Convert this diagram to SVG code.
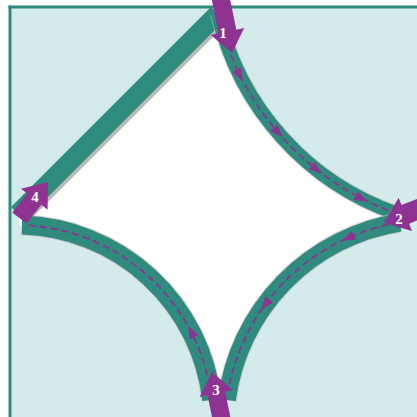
<svg xmlns="http://www.w3.org/2000/svg" width="417" height="417" viewBox="0 0 417 417">
<style>
.band{fill:none;stroke:#2e8b7d;stroke-linecap:butt}
.shadow{fill:none;stroke:#c4b6c2;stroke-linecap:butt;opacity:0.6}
.dash{fill:none;stroke:#8f3392;stroke-width:1.8;stroke-dasharray:7 4}
.big{fill:#8f3392}
.lbl{font-family:"Liberation Serif","DejaVu Serif",serif;font-weight:bold;font-size:15px;fill:#ffffff;text-anchor:middle}
</style>
<defs>
<polygon id="ah" points="6,0 -7,-4.8 -7,4.8" fill="#8f3392"/>
</defs>
<rect x="0" y="0" width="417" height="417" fill="#ffffff"/>
<rect x="10" y="7" width="407" height="410" fill="#d3ebeb"/>
<g id="frame" stroke="#2e8b7d" stroke-width="3" fill="none">
<line x1="8.5" y1="7" x2="417" y2="7"/>
<line x1="10" y1="5.5" x2="10" y2="417"/>
</g>
<path id="interior" d="M218,14 A277 277 0 0 0 398,214 L400,222.5 A207 207 0 0 0 226.8,400 L211.8,400 A197 197 0 0 0 20,225 L17,214 Z" fill="#ffffff"/>
<g id="connectors">
<polygon points="213.5,9.5 226.9,22.9 26.9,222.9 13.5,209.5" fill="#b8b8b8"/>
<polygon points="211,7 224.4,20.4 24.4,220.4 11,207" fill="#2e8b7d"/>
<path class="shadow" stroke-width="16" d="M218,14 A277 277 0 0 0 398,214"/>
<path class="band" stroke-width="14" d="M218,14 A277 277 0 0 0 398,214"/>
<path class="shadow" stroke-width="20" d="M400,222.5 A207 207 0 0 0 226.8,400"/>
<path class="band" stroke-width="18" d="M400,222.5 A207 207 0 0 0 226.8,400"/>
<path class="shadow" stroke-width="21" d="M211.8,400 A197 197 0 0 0 22,225.1"/>
<path class="band" stroke-width="19" d="M211.8,400 A197 197 0 0 0 22,225.1"/>
<path class="dash" d="M231,55 A277 277 0 0 0 388,210.3"/>
<path class="dash" d="M388,224.7 A207 207 0 0 0 229.3,385"/>
<path class="dash" d="M207.3,375 A197 197 0 0 0 26,225.3"/>
<use href="#ah" transform="translate(240,76) rotate(63.4)"/>
<use href="#ah" transform="translate(278.3,133) rotate(49.2)"/>
<use href="#ah" transform="translate(317.3,170.1) rotate(38)"/>
<use href="#ah" transform="translate(362,199) rotate(27)"/>
<use href="#ah" transform="translate(347.5,238) rotate(155.9)"/>
<use href="#ah" transform="translate(265,305) rotate(126.2)"/>
<use href="#ah" transform="translate(190.8,331.1) rotate(-117.5)"/>
</g>
<g id="vertex-1">
<polygon class="big" points="0,0 -22,-17 -22,-9 -62,-9 -62,9 -22,9 -22,17" transform="translate(232,53) rotate(78.3)"/>
<text class="lbl" x="223" y="38">1</text>
</g>
<g id="vertex-2">
<polygon class="big" points="0,0 -23,-18 -23,-10 -62,-10 -62,10 -23,10 -23,18" transform="translate(384,223) rotate(158)"/>
<text class="lbl" x="399" y="224">2</text>
</g>
<g id="vertex-3">
<polygon class="big" points="0,0 -22,-17 -22,-9 -62,-9 -62,9 -22,9 -22,17" transform="translate(212,372) rotate(-101.5)"/>
<text class="lbl" x="216" y="395">3</text>
</g>
<g id="vertex-4">
<polygon class="big" points="0,0 -22,-17 -22,-9 -46,-9 -46,9 -22,9 -22,17" transform="translate(48,182) rotate(-51.5)"/>
<text class="lbl" x="35" y="202">4</text>
</g>
</svg>
